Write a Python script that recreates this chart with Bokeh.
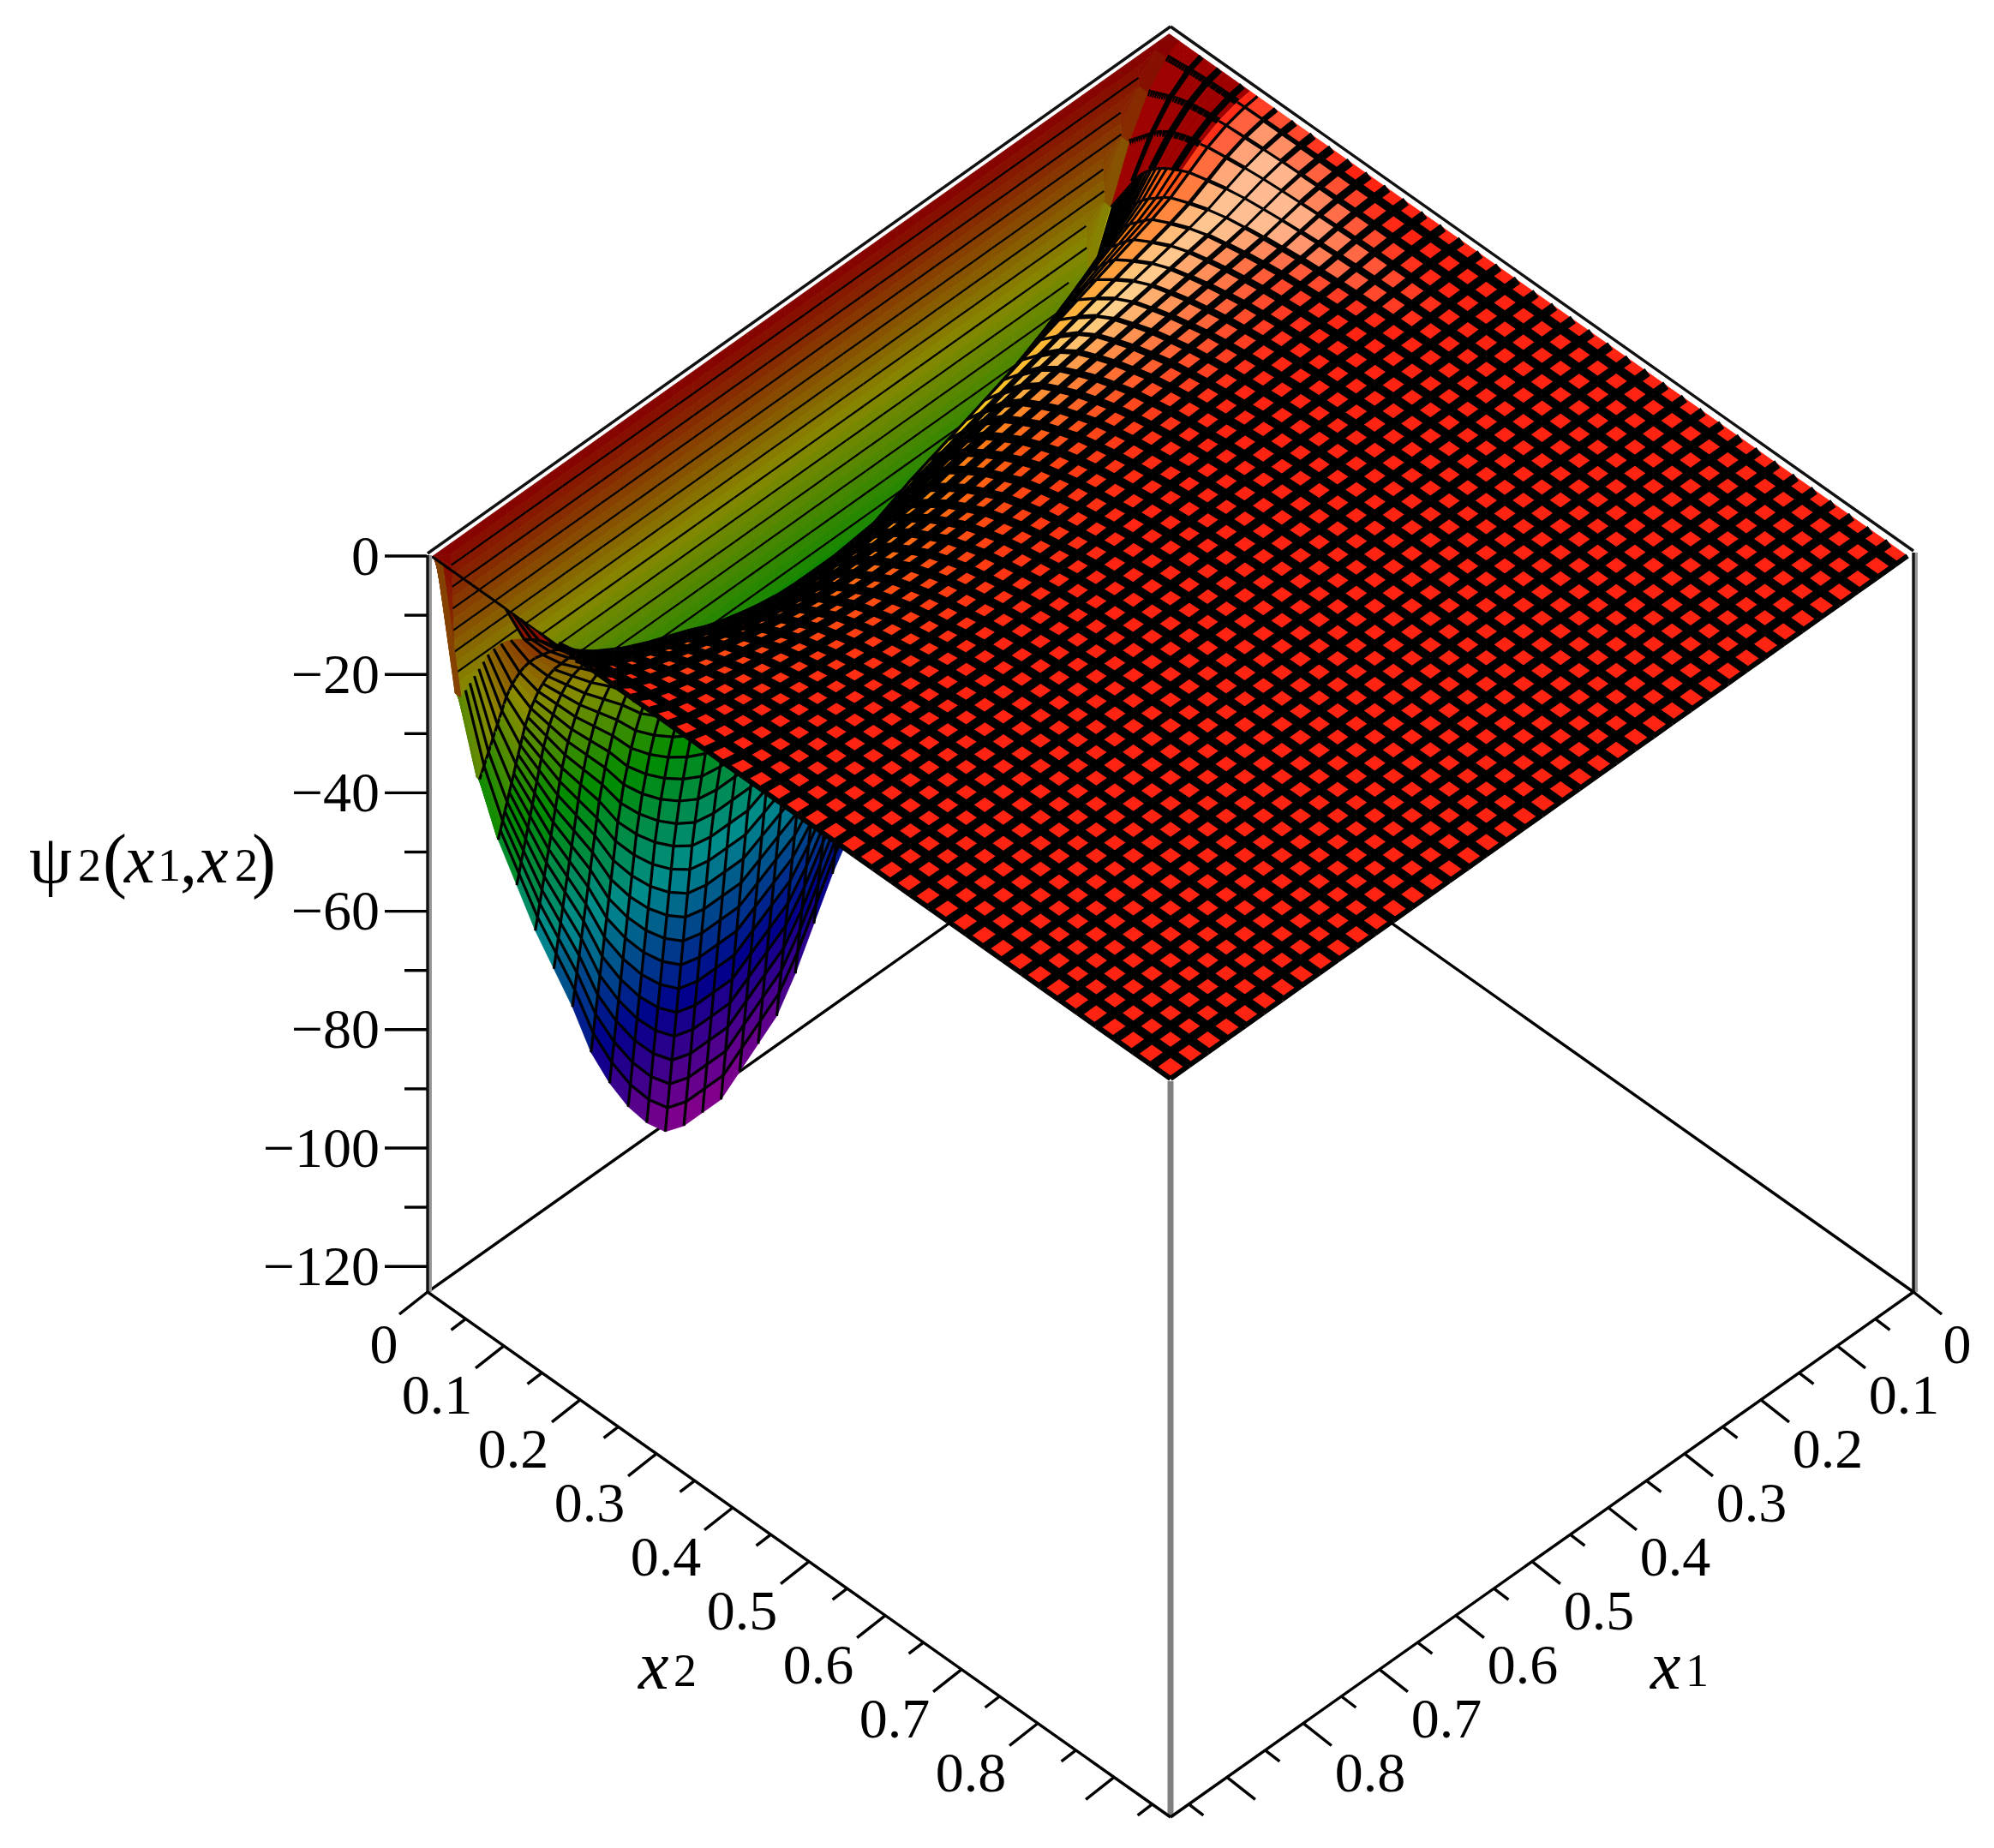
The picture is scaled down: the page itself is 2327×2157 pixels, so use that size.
import colorsys
from bokeh.plotting import figure
from bokeh.models import ColumnDataSource, Range1d
from bokeh.core.properties import value
from bokeh.embed import file_html
from bokeh.resources import INLINE

# ---- data ----
z_ticks = [0, -20, -40, -60, -80, -100, -120]
z_minor = [-10, -30, -50, -70, -90, -110]
h_ticks = [0.1, 0.2, 0.3, 0.4, 0.5, 0.6, 0.7, 0.8, 0.9]
h_labels = ["0", "0.1", "0.2", "0.3", "0.4", "0.5", "0.6", "0.7", "0.8"]
h_minor = [0.05, 0.15, 0.25, 0.35, 0.45, 0.55, 0.65, 0.75, 0.85, 0.95]

# mesh columns, as a fraction of the x1 axis length, and depth of the well along x1
x1_grid = [0.008, 0.025, 0.05, 0.075, 0.1, 0.125, 0.15, 0.175, 0.2, 0.225, 0.25, 0.275, 0.3, 0.325, 0.35,
           0.375, 0.4, 0.425, 0.45, 0.475, 0.5, 0.525, 0.55, 0.575, 0.6, 0.625, 0.65, 0.675, 0.7, 0.725,
           0.75, 0.775, 0.8, 0.825, 0.85, 0.875, 0.9, 0.925, 0.95, 0.975, 1.0]
x1_depth = [0.0, 0.01, 0.04, 0.09, 0.16, 0.23, 0.28, 0.32, 0.36, 0.4, 0.44, 0.48, 0.52, 0.56, 0.6,
            0.64, 0.68, 0.72, 0.76, 0.8, 0.85, 0.9, 0.94, 0.96, 0.98, 1.0, 1.0, 1.0, 0.99, 0.96,
            0.92, 0.87, 0.81, 0.73, 0.66, 0.59, 0.51, 0.43, 0.33, 0.2, 0.0]

# far wall of the trough: rows close to x2 = 0 and their depth
far_x2 = [0.006, 0.0064, 0.0069, 0.0073, 0.0078, 0.0082, 0.0086, 0.0091, 0.0095, 0.01, 0.0104,
          0.0108, 0.0113, 0.0117, 0.0122, 0.0126, 0.013, 0.0135, 0.0139, 0.0144, 0.0148, 0.0152,
          0.0157, 0.0161, 0.0166, 0.017, 0.0174, 0.0179, 0.0183, 0.0188, 0.0192, 0.0196, 0.02]
far_z = [0.0, 1.8, 3.6, 5.4, 7.2, 9.0, 10.8, 12.6, 14.4, 16.2, 18.0, 19.8, 21.6, 23.4, 25.2, 27.0,
         28.8, 30.6, 32.4, 34.2, 36.0, 37.8, 39.6, 41.4, 43.2, 45.0, 46.8, 48.6, 50.4, 52.2, 54.0, 55.8, 57.6]

# near wall and plateau: rows in x2 and their share of the depth
near_x2 = [0.02, 0.023, 0.026, 0.029, 0.032, 0.035, 0.038, 0.041, 0.044, 0.047, 0.05, 0.053, 0.056, 0.06,
           0.064, 0.069, 0.074, 0.08, 0.087, 0.095, 0.105, 0.115, 0.125, 0.15, 0.175, 0.2, 0.225, 0.25,
           0.275, 0.3, 0.325, 0.35, 0.375, 0.4, 0.425, 0.45, 0.475, 0.5, 0.525, 0.55, 0.575, 0.6, 0.625,
           0.65, 0.675, 0.7, 0.725, 0.75, 0.775, 0.8, 0.825, 0.85, 0.875, 0.9, 0.925, 0.95, 0.975, 1.0]
near_share = [1.0, 0.965, 0.93, 0.895, 0.86, 0.825, 0.79, 0.755, 0.72, 0.685, 0.65, 0.615, 0.58, 0.545,
              0.51, 0.475, 0.44, 0.405, 0.37, 0.335, 0.3, 0.265, 0.235, 0.19, 0.15, 0.12, 0.1, 0.082,
              0.068, 0.055, 0.046, 0.038, 0.032, 0.027, 0.022, 0.018, 0.015, 0.012, 0.01, 0.008, 0.0065,
              0.005, 0.004, 0.003, 0.0025, 0.002, 0.0015, 0.001, 0.0008, 0.0006, 0.0005, 0.0004, 0.0003,
              0.0002, 0.0001, 0.00005, 0.00002, 0.0]
# rows of the near wall that stay visible as grid lines close to the apex
apex_rows = [0.05, 0.074, 0.105, 0.125]
Z_MIN = -124.0
AXIS_MAX = 0.974

# ---- view ----
APEX = (1367.0, 31.0)
U = (-867.0, 615.0)
V = (867.0, 613.0)
Z_PX = 6.9


def sx(a, b):
    return APEX[0] + U[0] * a + V[0] * b


def sy(a, b, z=0.0):
    return APEX[1] + U[1] * a + V[1] * b - Z_PX * z


def clamp(v):
    return max(0.0, min(1.0, v))


def hue(z):
    return clamp(-z / 124.0) * 5.0 / 6.0


def rgb(h, s, v):
    r, g, b = colorsys.hsv_to_rgb(h, s, v)
    return "#%02x%02x%02x" % (round(r * 255), round(g * 255), round(b * 255))


items = {k: [] for k in ("xs", "ys", "fill", "fa", "line", "lw")}


def add(xs, ys, fill, fa, line, lw):
    items["xs"].append(xs)
    items["ys"].append(ys)
    items["fill"].append(fill)
    items["fa"].append(fa)
    items["line"].append(line)
    items["lw"].append(lw)


n = len(x1_grid)

# far wall, flat in x1 except where the well is shallower than the row
far = [[-min(d, -Z_MIN * x1_depth[i]) for i in range(n)] for d in far_z]
for j in range(len(far_x2) - 1):
    b0, b1 = far_x2[j], far_x2[j + 1]
    for i in range(n - 1):
        a0, a1 = x1_grid[i], x1_grid[i + 1]
        pts = [(a0, b0, far[j][i]), (a1, b0, far[j][i + 1]), (a1, b1, far[j + 1][i + 1]), (a0, b1, far[j + 1][i])]
        zc = sum(p[2] for p in pts) / 4
        c = rgb(hue(zc), 1.0, 0.53)
        X = [sx(p[0], p[1]) for p in pts]
        Y = [sy(p[0], p[1], p[2]) for p in pts]
        add(X, Y, c, 1.0, c, 0.8)
        capped = far_z[j] > min(-far[-1][i], -far[-1][i + 1]) - 0.01
        if j % 2 == 0 and j > 0 and not capped:
            add(X[:2], Y[:2], "#000000", 0.0, "#000000", 2.2)

# near wall and plateau
near = [[Z_MIN * x1_depth[i] * s for i in range(n)] for s in near_share]
m = len(near_x2)
for j in range(m - 1):
    b0, b1 = near_x2[j], near_x2[j + 1]
    for i in range(n - 1):
        a0, a1 = x1_grid[i], x1_grid[i + 1]
        # the last column of the wall is not drawn, the far wall shows there; its edge stays
        if i == n - 2 and b0 < 0.1:
            add([sx(a1, b0), sx(a1, b1)], [sy(a1, b0), sy(a1, b1)], "#000000", 0.0, "#000000", 3.0)
            continue
        pts = [(a0, b0, near[j][i]), (a1, b0, near[j][i + 1]), (a1, b1, near[j + 1][i + 1]), (a0, b1, near[j + 1][i])]
        zc = sum(p[2] for p in pts) / 4
        X = [sx(p[0], p[1]) for p in pts]
        Y = [sy(p[0], p[1], p[2]) for p in pts]
        area = sum(X[k] * Y[(k + 1) % 4] - X[(k + 1) % 4] * Y[k] for k in range(4))
        under = area > 0
        share = near_share[j]
        slope = max(0.0, -(near[j][i + 1] - near[j][i]) / (a1 - a0))
        w = clamp((slope - 6) / 25) * clamp((0.45 - a0) / 0.2) * clamp((0.27 - share) / 0.1)
        if under:
            c = rgb(hue(zc), 1.0, 0.55)
            lw_b = lw_a = 3.2
        elif a0 < 0.09 and b0 < 0.11:
            c = rgb(0.0, 1.0, 0.62)
            lw_b = lw_a = 8.0
        else:
            h = max(hue(zc), 0.012)
            c = rgb(h + 0.05 * w, 0.93 - 0.5 * w, 1.0)
            lw_b = lw_a = 10.5 - 7.5 * max(w, clamp((share - 0.14) / 0.1))
        add(X, Y, c, 1.0, c, 0.8)
        show_row = j > 0 and (a0 >= 0.09 or near_x2[j] >= 0.125 or near_x2[j] in apex_rows)
        if a0 > 0.9 and b0 < 0.1 and j % 2:
            show_row = False
        if show_row:
            add(X[:2], Y[:2], "#000000", 0.0, "#000000", lw_b)
        if i > 0:
            add([X[0], X[3]], [Y[0], Y[3]], "#000000", 0.0, "#000000", lw_a)
        if i == n - 2:
            add([X[1], X[2]], [Y[1], Y[2]], "#000000", 0.0, "#000000", 6.0 if share < 0.14 else 2.4)
        if j == m - 2:
            add([X[2], X[3]], [Y[2], Y[3]], "#000000", 0.0, "#000000", 6.0)

# the start of the x1 edge between the left corner and the first row
add([sx(1.0, far_x2[0]), sx(1.0, near_x2[0])], [sy(1.0, far_x2[0]), sy(1.0, near_x2[0])],
    "#000000", 0.0, "#000000", 3.0)

W, H = 2311, 2141
OX, OY = 1.5, 0.5
p = figure(width=W, height=H, x_range=Range1d(OX, OX + W), y_range=Range1d(OY + H, OY),
           output_backend="svg", toolbar_location=None, min_border=0, outline_line_color=None,
           background_fill_color="white", border_fill_color="white")
p.xaxis.visible = False
p.yaxis.visible = False
p.grid.visible = False

BL = (500.0, 1508.0)
BR = (2234.0, 1508.0)
BF = (1367.0, 2121.0)
BB = (1367.0, 895.0)
# floor lines behind the surface
p.segment([BL[0], BR[0]], [BL[1], BR[1]], [BB[0], BB[0]], [BB[1], BB[1]], line_color="black", line_width=3.4)

p.patches(xs="xs", ys="ys", fill_color="fill", fill_alpha="fa", line_color="line", line_width="lw",
          source=ColumnDataSource(items))

# rim
p.segment([APEX[0], APEX[0]], [APEX[1], APEX[1]], [500, 2234], [646, 643], line_color="#111111", line_width=3.4)
# verticals
p.segment([502, 2236], [648, 645], [502, 2236], [BL[1], BR[1]], line_color="#999999", line_width=6)
p.segment([500, 2234], [648, 645], [500, 2234], [BL[1], BR[1]], line_color="#111111", line_width=3.4)
p.segment([1367], [1262], [1367], [BF[1]], line_color="#808080", line_width=7)
# floor axes
p.segment([BL[0], BR[0]], [BL[1], BR[1]], [BF[0], BF[0]], [BF[1], BF[1]], line_color="black", line_width=3.4)

FONT = value("Liberation Serif")
# z axis
zy = [649 - 6.91 * t for t in z_ticks]
p.segment([450] * len(zy), zy, [499] * len(zy), zy, line_color="black", line_width=3.4)
zm = [649 - 6.91 * t for t in z_minor]
p.segment([473] * len(zm), zm, [499] * len(zm), zm, line_color="black", line_width=3.4)
p.text([444] * len(zy), zy, text=[("\u2212%d" % -t) if t else "0" for t in z_ticks], text_font=FONT,
       text_font_size="66px", text_align="right", text_baseline="middle", text_color="black")


def ax_right(t):
    a = t / AXIS_MAX
    return BR[0] + (BF[0] - BR[0]) * a, BR[1] + (BF[1] - BR[1]) * a


def ax_left(t):
    a = t / AXIS_MAX
    return BL[0] + (BF[0] - BL[0]) * a, BL[1] + (BF[1] - BL[1]) * a


all_major = [0.0] + h_ticks
for fn, sgn in ((ax_right, 1), (ax_left, -1)):
    P = [fn(t) for t in all_major]
    p.segment([q[0] for q in P], [q[1] for q in P], [q[0] + sgn * 33 for q in P], [q[1] + 26 for q in P],
              line_color="black", line_width=3.4)
    M = [fn(t) for t in h_minor]
    p.segment([q[0] for q in M], [q[1] for q in M], [q[0] + sgn * 17 for q in M], [q[1] + 13 for q in M],
              line_color="black", line_width=3.4)
    L = P[:len(h_labels)]
    off = [(sgn * 51, 61)] + [(sgn * 78, 58)] * (len(L) - 1)
    p.text([q[0] + o[0] for q, o in zip(L, off)], [q[1] + o[1] for q, o in zip(L, off)], text=h_labels,
           text_font=FONT, text_font_size="66px", text_align="center", text_baseline="middle", text_color="black")


def piece(x, y, s, size, style="normal"):
    p.text([x], [y], text=[s], text_font=FONT, text_font_size=size, text_font_style=style,
           text_align="left", text_baseline="middle", text_color="black")


# axis titles
piece(1927, 1944, "x", "80px", "italic")
piece(1968, 1950, "1", "54px")
piece(746, 1944, "x", "80px", "italic")
piece(787, 1950, "2", "54px")
# z title
MID = 1003
piece(35, MID, "\u03c8", "80px")
piece(92, MID + 7, "2", "54px")
piece(121, MID, "(", "84px")
piece(146, MID, "x", "80px", "italic")
piece(185, MID + 7, "1", "54px")
piece(211, MID, ",", "80px")
piece(232, MID, "x", "80px", "italic")
piece(275, MID + 7, "2", "54px")
piece(295, MID, ")", "84px")

open("out.html", "w").write(file_html(p, INLINE))
